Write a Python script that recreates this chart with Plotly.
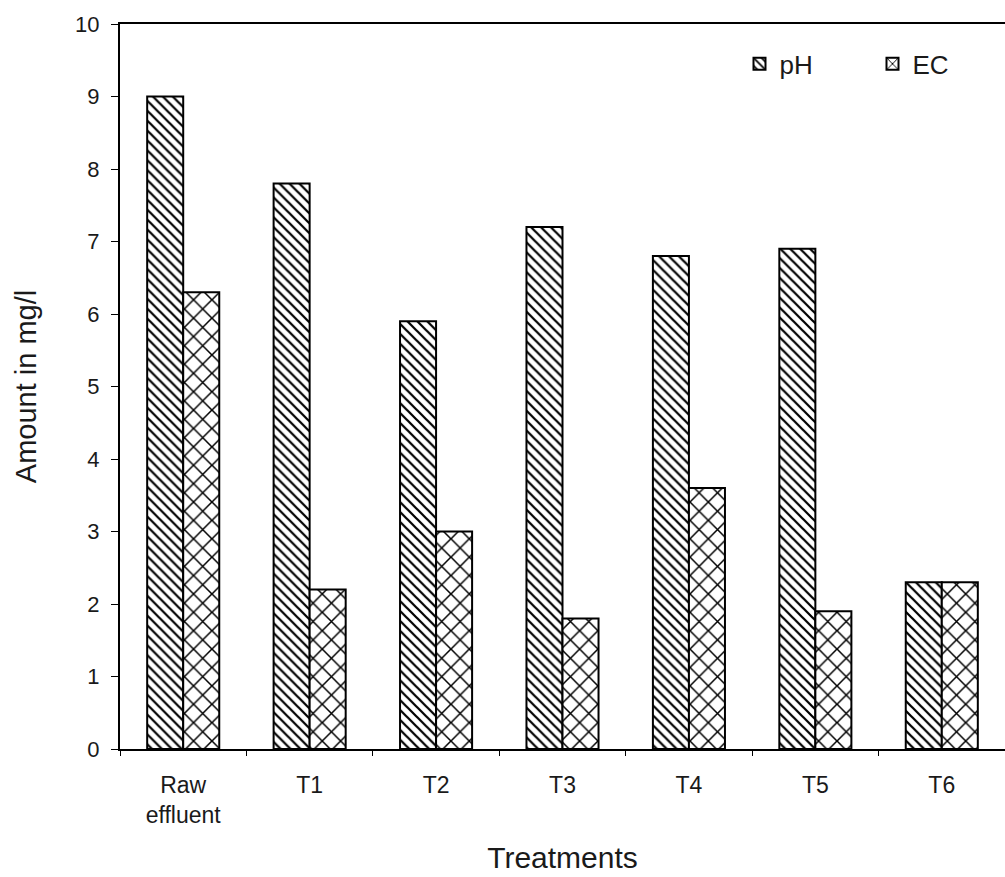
import plotly.graph_objects as go

categories = ["Raw<br>effluent", "T1", "T2", "T3", "T4", "T5", "T6"]
ph_values = [9.0, 7.8, 5.9, 7.2, 6.8, 6.9, 2.3]
ec_values = [6.3, 2.2, 3.0, 1.8, 3.6, 1.9, 2.3]
y_ticks = list(range(0, 11))

FONT = "Liberation Sans, Arial, sans-serif"

fig = go.Figure()
fig.add_trace(go.Bar(
    name="pH", x=categories, y=ph_values,
    marker=dict(color="white", line=dict(color="black", width=2),
                pattern=dict(shape="\\", fgcolor="black", bgcolor="white",
                             fgopacity=1, size=7, solidity=0.32)),
))
fig.add_trace(go.Bar(
    name="EC", x=categories, y=ec_values,
    marker=dict(color="white", line=dict(color="black", width=2),
                pattern=dict(shape="x", fgcolor="black", bgcolor="white",
                             fgopacity=1, size=13, solidity=0.22)),
))

fig.update_layout(
    width=1005, height=877,
    margin=dict(l=120, r=0, t=24, b=128, autoexpand=False),
    paper_bgcolor="white", plot_bgcolor="white",
    barmode="group", bargap=0.43, bargroupgap=0,
    font=dict(family=FONT, color="#1a1a1a", size=22),
    showlegend=True,
    legend=dict(orientation="h", x=0.70, xanchor="left", y=0.945, yanchor="middle",
                font=dict(size=26, family=FONT), bgcolor="rgba(0,0,0,0)",
                entrywidth=88, entrywidthmode="pixels", itemsizing="constant"),
)
fig.update_xaxes(
    showline=True, linecolor="black", linewidth=2, mirror=True,
    ticks="outside", tickson="boundaries", ticklen=5, tickcolor="black",
    tickfont=dict(size=23, family=FONT), ticklabelstandoff=14,
    title=dict(text="Treatments", font=dict(size=30, family=FONT), standoff=20),
    showgrid=False,
)
fig.update_yaxes(
    range=[0, 10], tickvals=y_ticks,
    showline=True, linecolor="black", linewidth=2, mirror=True,
    ticks="outside", ticklen=7, tickcolor="black",
    tickfont=dict(size=22, family=FONT), ticklabelstandoff=7,
    title=dict(text="Amount in mg/l", font=dict(size=29, family=FONT), standoff=30),
    showgrid=False, zeroline=False,
)

fig.write_html("out.html")
